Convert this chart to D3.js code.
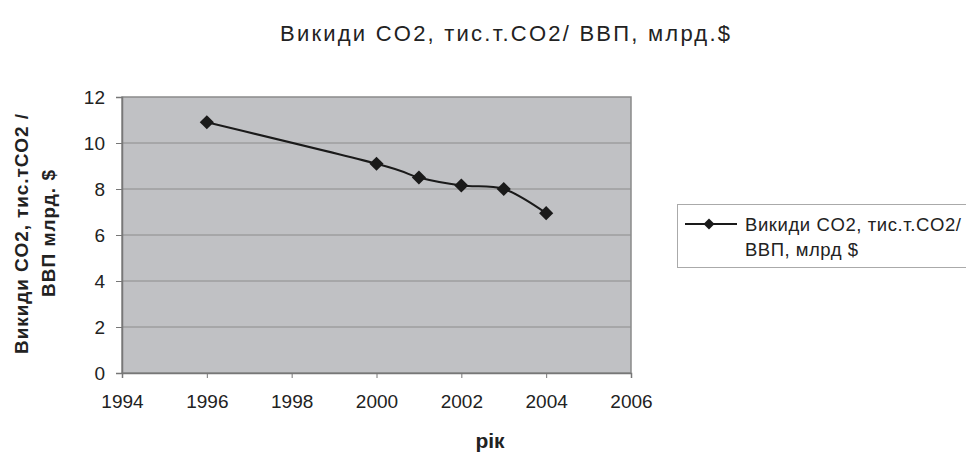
<!DOCTYPE html>
<html>
<head>
<meta charset="utf-8">
<script src="https://cdn.jsdelivr.net/npm/d3@7"></script>
<style>
  body { margin: 0; background: #fff; }
  text { font-family: "Liberation Sans", Arial, sans-serif; fill: #222; }
</style>
</head>
<body>
<div id="graph"></div>
<script>
// data
var years = [1996, 2000, 2001, 2002, 2003, 2004];
var values = [10.9, 9.1, 8.5, 8.15, 8.0, 6.95];
var xTicks = [1994, 1996, 1998, 2000, 2002, 2004, 2006];
var yTicks = [0, 2, 4, 6, 8, 10, 12];
var seriesName = ["Викиди CO2, тис.т.CO2/", "ВВП, млрд $"];

function draw_function() {
    var vis = d3.select("#graph")
        .append("svg")
        .attr("width", 966).attr("height", 458);

    // plot area
    var left = 122, right = 631, top = 97, bottom = 373;

    var x = d3.scaleLinear().domain([1994, 2006]).range([left, right]);
    var y = d3.scaleLinear().domain([0, 12]).range([bottom, top]);

    vis.append("rect")
        .attr("x", left).attr("y", top)
        .attr("width", right - left).attr("height", bottom - top)
        .attr("fill", "#c0c1c4")
        .attr("stroke", "#8a8a8a").attr("stroke-width", 1.5);

    // horizontal gridlines
    vis.selectAll("line.grid")
        .data(yTicks.slice(1, -1))
        .enter()
        .append("line")
        .attr("class", "grid")
        .attr("x1", left).attr("x2", right)
        .attr("y1", function(d) { return y(d); })
        .attr("y2", function(d) { return y(d); })
        .attr("stroke", "#8c8c8c").attr("stroke-width", 1);

    // axes
    var yAxis = vis.append("g")
        .attr("transform", "translate(" + left + ",0)")
        .call(d3.axisLeft(y).tickValues(yTicks).tickSize(6).tickPadding(11));
    var xAxis = vis.append("g")
        .attr("transform", "translate(0," + bottom + ")")
        .call(d3.axisBottom(x).tickValues(xTicks).tickFormat(d3.format("d")).tickSize(5).tickPadding(17));

    [yAxis, xAxis].forEach(function(a) {
        a.select(".domain").attr("stroke", "#777").attr("stroke-width", 1.5);
        a.selectAll(".tick line").attr("stroke", "#777");
        a.selectAll(".tick text")
            .style("font-family", "'Liberation Sans', Arial, sans-serif")
            .style("font-size", "19px")
            .attr("fill", "#222");
    });

    // smoothed line like the spreadsheet chart
    var pts = years.map(function(d, i) { return [d, values[i]]; });
    var line = d3.line()
        .x(function(d) { return x(d[0]); })
        .y(function(d) { return y(d[1]); })
        .curve(d3.curveCardinal.tension(0));

    vis.append("path")
        .datum(pts)
        .attr("d", line)
        .attr("fill", "none")
        .attr("stroke", "#1a1a1a")
        .attr("stroke-width", 2);

    var diamond = d3.symbol().type(d3.symbolSquare).size(100);
    vis.selectAll("path.pt")
        .data(pts)
        .enter()
        .append("path")
        .attr("class", "pt")
        .attr("d", diamond)
        .attr("transform", function(d) {
            return "translate(" + x(d[0]) + "," + y(d[1]) + ") rotate(45)";
        })
        .attr("fill", "#1a1a1a");

    // title
    vis.append("text")
        .attr("x", 280).attr("y", 41)
        .attr("textLength", 450)
        .attr("lengthAdjust", "spacing")
        .style("font-size", "22px")
        .text("Викиди CO2, тис.т.CO2/ ВВП, млрд.$");

    // axis titles
    var yTitle = vis.append("text")
        .attr("transform", "translate(0,234) rotate(-90)")
        .style("font-size", "19px")
        .style("font-weight", "bold");
    yTitle.append("tspan").attr("x", -120).attr("y", 28)
        .attr("textLength", 240).attr("lengthAdjust", "spacing")
        .text("Викиди CO2, тис.тCO2 /");
    yTitle.append("tspan").attr("x", -63).attr("y", 55)
        .attr("textLength", 127).attr("lengthAdjust", "spacing")
        .text("ВВП млрд. $");

    vis.append("text")
        .attr("x", 490).attr("y", 448)
        .attr("text-anchor", "middle")
        .style("font-size", "21px")
        .style("font-weight", "bold")
        .text("рік");

    // legend box runs past the right edge as in the picture;
    // the text is kept just inside it
    var legendWidths = [216, 113];
    var lg = vis.append("g");
    lg.append("rect")
        .attr("x", 677.5).attr("y", 204.5)
        .attr("width", 320).attr("height", 63)
        .attr("fill", "#fff")
        .attr("stroke", "#aaa");
    lg.append("line")
        .attr("x1", 685).attr("x2", 737)
        .attr("y1", 224).attr("y2", 224)
        .attr("stroke", "#1a1a1a").attr("stroke-width", 2);
    lg.append("path")
        .attr("d", d3.symbol().type(d3.symbolSquare).size(60))
        .attr("transform", "translate(709,224) rotate(45)")
        .attr("fill", "#1a1a1a");
    lg.selectAll("text")
        .data(seriesName)
        .enter()
        .append("text")
        .attr("x", 745)
        .attr("y", function(d, i) { return 231 + i * 25; })
        .attr("textLength", function(d, i) { return legendWidths[i]; })
        .attr("lengthAdjust", "spacing")
        .style("font-size", "18.5px")
        .text(function(d) { return d; });
}

window.onload = draw_function;
</script>
</body>
</html>
